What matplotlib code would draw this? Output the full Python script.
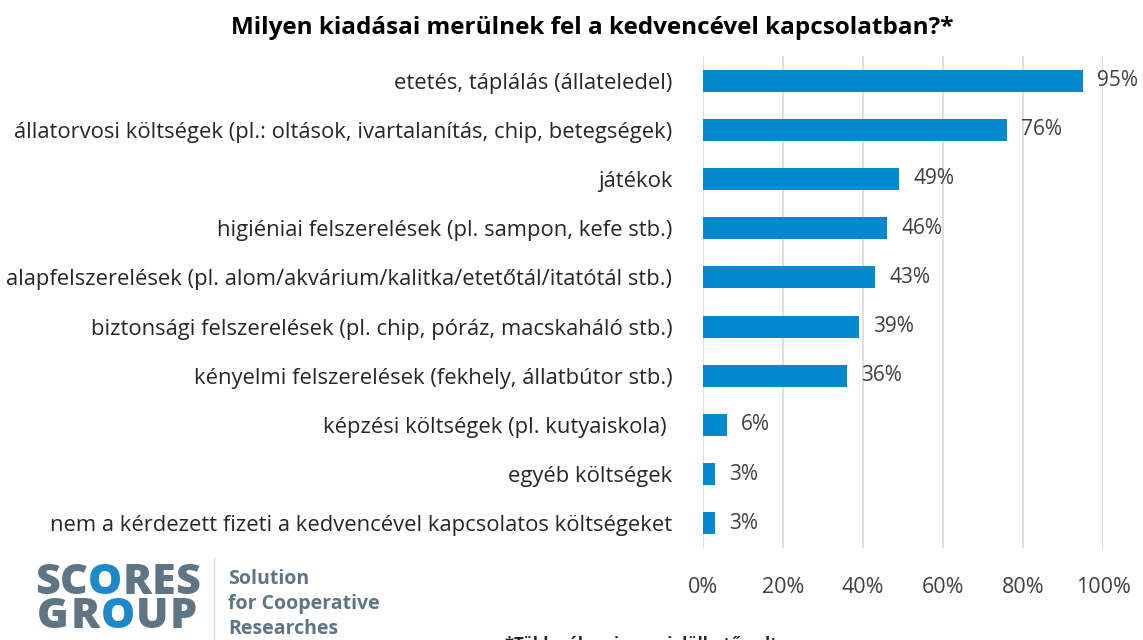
import matplotlib
matplotlib.use("Agg")
import matplotlib.pyplot as plt

categories = [
    "etetés, táplálás (állateledel)",
    "állatorvosi költségek (pl.: oltások, ivartalanítás, chip, betegségek)",
    "játékok",
    "higiéniai felszerelések (pl. sampon, kefe stb.)",
    "alapfelszerelések (pl. alom/akvárium/kalitka/etetőtál/itatótál stb.)",
    "biztonsági felszerelések (pl. chip, póráz, macskaháló stb.)",
    "kényelmi felszerelések (fekhely, állatbútor stb.)",
    "képzési költségek (pl. kutyaiskola) ",
    "egyéb költségek",
    "nem a kérdezett fizeti a kedvencével kapcsolatos költségeket",
]
values = [95, 76, 49, 46, 43, 39, 36, 6, 3, 3]
xticks = [0, 20, 40, 60, 80, 100]
xtick_labels = ["0%", "20%", "40%", "60%", "80%", "100%"]
title = "Milyen kiadásai merülnek fel a kedvencével kapcsolatban?*"
note = "*Több válasz is megjelölhető volt"

plt.rcParams['font.family'] = ['Open Sans', 'DejaVu Sans']
txt = "#262626"
bar_color = "#0288CD"

fig = plt.figure(figsize=(11.43, 6.40), dpi=100)
ax = fig.add_axes([703/1143, 1-548/640, 400/1143, 492/640])

y = list(range(len(categories)))
ax.barh(y, values, height=0.45, color=bar_color, zorder=3)
ax.set_ylim(len(categories)-0.5, -0.5)
ax.set_xlim(0, 100)
ax.set_yticks(y)
ax.set_yticklabels(categories, fontsize=15.8, color=txt)
ax.set_xticks(xticks)
ax.set_xticklabels(xtick_labels, fontsize=15.5, color="#404040")
ax.tick_params(axis='y', length=0, pad=22)
ax.tick_params(axis='x', length=0, pad=21)
ax.grid(axis='x', color="#d9d9d9", linewidth=1.2, zorder=0)
for s in ax.spines.values():
    s.set_visible(False)

for yi, v in zip(y, values):
    ax.text(v + 3.5, yi, f"{v}%", va='center', ha='left', fontsize=15, color="#404040")

fig.text(592/1143, 1-28/640, title, ha='center', va='center', fontsize=17.5,
         fontweight='bold', color="#000000")

# logo
gray = "#5F7584"
blue = "#1E88C8"
rend = fig.canvas.get_renderer()


def word(letters, x_px, y_px, target_w):
    ws = []
    for ch, c in letters:
        t = fig.text(0, 0, ch, fontsize=31, fontweight='heavy')
        ws.append(t.get_window_extent(rend).width)
        t.remove()
    gap = (target_w - sum(ws)) / (len(ws) - 1)
    x = x_px
    for (ch, c), w in zip(letters, ws):
        fig.text(x/1143, 1-y_px/640, ch, ha='left', va='center', fontsize=31,
                 fontweight='heavy', color=c)
        x += w + gap


word([("S", gray), ("C", gray), ("O", blue), ("R", gray), ("E", gray), ("S", gray)], 35, 583, 165)
word([("G", gray), ("R", gray), ("O", blue), ("U", gray), ("P", gray)], 37, 617, 160)
fig.add_artist(plt.Line2D([214/1143, 214/1143], [0, 1-557/640], color="#cfe3f2", lw=1))
for i, line in enumerate(["Solution", "for Cooperative", "Researches"]):
    fig.text(228/1143, 1-(579 + i*25)/640, line, ha='left', va='center', fontsize=14,
             fontweight='bold', color=gray)

fig.text(505/1143, 1-636/640, note, ha='left', va='top', fontsize=12,
         fontweight='bold', color=txt)

fig.savefig("out.png", dpi=100)
